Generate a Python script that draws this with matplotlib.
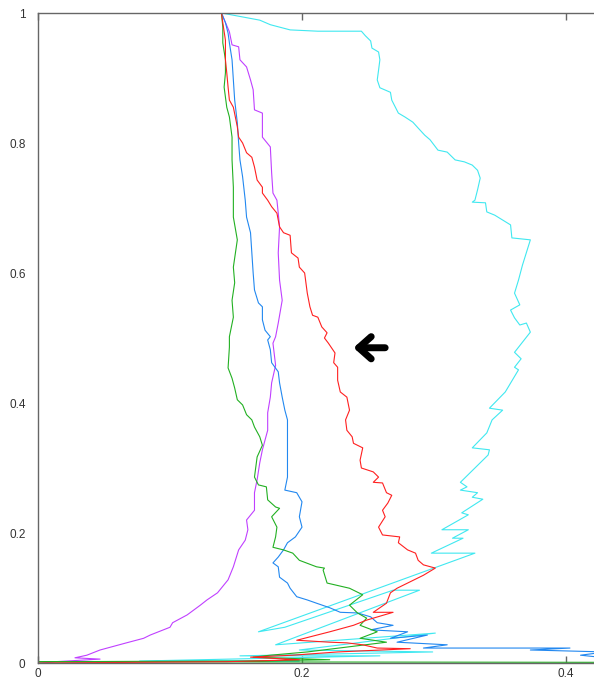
import matplotlib
matplotlib.use("Agg")
import matplotlib.pyplot as plt

# curves, (x, y) in data units
purple_x = [0.139, 0.145, 0.147, 0.152, 0.153, 0.158, 0.161, 0.163, 0.164, 0.170, 0.170, 0.176, 0.177, 0.178,
            0.181, 0.182, 0.183, 0.182, 0.183, 0.185, 0.182, 0.180, 0.178, 0.180, 0.177, 0.176, 0.174, 0.174,
            0.170, 0.168, 0.166, 0.164, 0.164, 0.158, 0.159, 0.157, 0.152, 0.148, 0.144, 0.136, 0.128, 0.123,
            0.113, 0.102, 0.100, 0.085, 0.080, 0.067, 0.047, 0.037, 0.028, 0.047, 0.013, 0.004]
purple_y = [1.0, 0.971, 0.951, 0.948, 0.928, 0.917, 0.897, 0.882, 0.851, 0.846, 0.809, 0.794, 0.754, 0.723,
            0.712, 0.692, 0.671, 0.631, 0.589, 0.558, 0.523, 0.502, 0.492, 0.458, 0.431, 0.409, 0.385, 0.358,
            0.328, 0.308, 0.282, 0.262, 0.235, 0.220, 0.205, 0.189, 0.174, 0.148, 0.128, 0.108, 0.097, 0.089,
            0.074, 0.062, 0.055, 0.043, 0.038, 0.031, 0.020, 0.012, 0.008, 0.006, 0.002, 0.0]

green_x = [0.139, 0.140, 0.140, 0.142, 0.142, 0.141, 0.143, 0.145, 0.147, 0.147, 0.148, 0.148, 0.151, 0.148,
           0.149, 0.147, 0.148, 0.145, 0.145, 0.144, 0.147, 0.149, 0.151, 0.155, 0.158, 0.162, 0.164, 0.168,
           0.170, 0.166, 0.164, 0.167, 0.173, 0.174, 0.180, 0.183, 0.177, 0.181, 0.180, 0.178, 0.186, 0.193,
           0.198, 0.211, 0.217, 0.216, 0.219, 0.236, 0.246, 0.236, 0.242, 0.249, 0.244, 0.257, 0.244, 0.264,
           0.236, 0.204, 0.176, 0.163, 0.221, 0.157, 0.0, 0.45]
green_y = [1.0, 0.978, 0.954, 0.928, 0.908, 0.886, 0.855, 0.840, 0.809, 0.774, 0.732, 0.686, 0.651, 0.609,
           0.585, 0.558, 0.532, 0.502, 0.486, 0.454, 0.438, 0.423, 0.405, 0.397, 0.382, 0.374, 0.363, 0.348,
           0.335, 0.317, 0.286, 0.274, 0.271, 0.251, 0.240, 0.238, 0.225, 0.209, 0.194, 0.178, 0.174, 0.169,
           0.158, 0.148, 0.146, 0.143, 0.123, 0.115, 0.105, 0.089, 0.077, 0.069, 0.058, 0.048, 0.038, 0.032,
           0.025, 0.017, 0.012, 0.009, 0.005, 0.003, 0.002, 0.001]

blue_x = [0.139, 0.142, 0.144, 0.145, 0.147, 0.148, 0.149, 0.151, 0.152, 0.153, 0.155, 0.157, 0.158, 0.161,
          0.162, 0.163, 0.164, 0.167, 0.170, 0.170, 0.172, 0.176, 0.174, 0.176, 0.177, 0.182, 0.183, 0.185,
          0.187, 0.189, 0.189, 0.189, 0.189, 0.189, 0.187, 0.196, 0.200, 0.198, 0.200, 0.195, 0.189, 0.186,
          0.182, 0.178, 0.182, 0.183, 0.189, 0.191, 0.196, 0.204, 0.211, 0.221, 0.229, 0.242, 0.252, 0.257,
          0.269, 0.252, 0.280, 0.267, 0.295, 0.272, 0.310, 0.292, 0.403, 0.373, 0.430, 0.411, 0.430]
blue_y = [1.0, 0.985, 0.969, 0.954, 0.928, 0.897, 0.866, 0.831, 0.800, 0.774, 0.748, 0.712, 0.686, 0.662,
          0.631, 0.600, 0.574, 0.554, 0.548, 0.528, 0.512, 0.502, 0.497, 0.482, 0.462, 0.448, 0.431, 0.409,
          0.389, 0.374, 0.354, 0.332, 0.312, 0.286, 0.266, 0.262, 0.248, 0.225, 0.209, 0.194, 0.185, 0.174,
          0.163, 0.154, 0.148, 0.132, 0.123, 0.115, 0.102, 0.097, 0.092, 0.085, 0.078, 0.077, 0.071, 0.062,
          0.058, 0.051, 0.048, 0.038, 0.043, 0.032, 0.028, 0.023, 0.023, 0.020, 0.017, 0.012, 0.008]

red_x = [0.139, 0.140, 0.142, 0.142, 0.143, 0.144, 0.145, 0.148, 0.151, 0.152, 0.155, 0.158, 0.162, 0.164,
         0.166, 0.170, 0.170, 0.174, 0.177, 0.181, 0.183, 0.186, 0.191, 0.192, 0.197, 0.198, 0.202, 0.204,
         0.206, 0.208, 0.212, 0.215, 0.219, 0.217, 0.220, 0.225, 0.224, 0.227, 0.227, 0.229, 0.234, 0.236,
         0.233, 0.234, 0.238, 0.239, 0.246, 0.244, 0.245, 0.254, 0.258, 0.254, 0.261, 0.264, 0.268, 0.265,
         0.261, 0.263, 0.258, 0.261, 0.274, 0.273, 0.280, 0.286, 0.288, 0.292, 0.301, 0.292, 0.280, 0.272,
         0.267, 0.264, 0.254, 0.269, 0.249, 0.239, 0.221, 0.196, 0.221, 0.234, 0.246, 0.257, 0.282, 0.227,
         0.193, 0.161, 0.198, 0.143, 0.0]
red_y = [1.0, 0.985, 0.958, 0.928, 0.908, 0.886, 0.866, 0.855, 0.825, 0.809, 0.800, 0.785, 0.778, 0.763,
         0.743, 0.732, 0.723, 0.712, 0.702, 0.692, 0.671, 0.662, 0.658, 0.631, 0.623, 0.609, 0.600, 0.569,
         0.548, 0.535, 0.532, 0.517, 0.508, 0.500, 0.492, 0.477, 0.462, 0.455, 0.435, 0.417, 0.409, 0.389,
         0.374, 0.358, 0.348, 0.338, 0.331, 0.312, 0.300, 0.294, 0.286, 0.278, 0.277, 0.262, 0.258, 0.246,
         0.235, 0.225, 0.209, 0.197, 0.194, 0.185, 0.174, 0.169, 0.158, 0.151, 0.146, 0.135, 0.123, 0.115,
         0.108, 0.092, 0.078, 0.078, 0.066, 0.058, 0.048, 0.035, 0.032, 0.031, 0.028, 0.023, 0.022, 0.017,
         0.012, 0.009, 0.005, 0.002, 0.0]

cyan_x = [0.139, 0.168, 0.176, 0.191, 0.212, 0.245, 0.248, 0.252, 0.253, 0.258, 0.259, 0.258, 0.257, 0.259,
          0.267, 0.268, 0.273, 0.278, 0.284, 0.288, 0.293, 0.297, 0.303, 0.310, 0.316, 0.323, 0.329, 0.333,
          0.335, 0.333, 0.331, 0.329, 0.339, 0.340, 0.346, 0.358, 0.359, 0.373, 0.367, 0.364, 0.361, 0.365,
          0.358, 0.361, 0.365, 0.370, 0.373, 0.361, 0.366, 0.361, 0.364, 0.354, 0.342, 0.352, 0.344, 0.340,
          0.329, 0.342, 0.341, 0.320, 0.325, 0.320, 0.333, 0.329, 0.337, 0.321, 0.326, 0.306, 0.326, 0.314,
          0.322, 0.298, 0.331, 0.167, 0.187, 0.269, 0.289, 0.180, 0.301, 0.198, 0.299, 0.153, 0.259, 0.077,
          0.198, 0.013, 0.0]
cyan_y = [1.0, 0.989, 0.982, 0.974, 0.972, 0.972, 0.965, 0.957, 0.946, 0.940, 0.928, 0.912, 0.897, 0.885,
          0.878, 0.866, 0.846, 0.840, 0.832, 0.823, 0.812, 0.805, 0.789, 0.786, 0.774, 0.771, 0.766, 0.758,
          0.746, 0.728, 0.712, 0.709, 0.708, 0.694, 0.689, 0.674, 0.654, 0.651, 0.612, 0.589, 0.569, 0.551,
          0.543, 0.531, 0.520, 0.523, 0.509, 0.478, 0.468, 0.455, 0.451, 0.417, 0.392, 0.389, 0.374, 0.354,
          0.331, 0.328, 0.320, 0.278, 0.271, 0.266, 0.262, 0.255, 0.252, 0.231, 0.228, 0.205, 0.205, 0.192,
          0.192, 0.169, 0.169, 0.048, 0.055, 0.112, 0.112, 0.028, 0.046, 0.020, 0.017, 0.011, 0.011, 0.003,
          0.003, 0.002, 0.0]

x_ticks = [0, 0.2, 0.4]
x_labels = ["0", "0.2", "0.4"]
y_ticks = [0, 0.2, 0.4, 0.6, 0.8, 1]
y_labels = ["0", "0.2", "0.4", "0.6", "0.8", "1"]

plt.rcParams['font.family'] = ['Liberation Sans', 'DejaVu Sans']

W, H = 594, 681
fig = plt.figure(figsize=(W / 100, H / 100), dpi=100)
x_max = 0.43
# axes run past the right edge of the figure, like the reference crop
ax = fig.add_axes([38 / W, 18 / H, x_max * 1320 / W, 650 / H])

ax.plot(cyan_x, cyan_y, color='#40e8f0', lw=0.8)
ax.plot(purple_x, purple_y, color='#c040ff', lw=0.8)
ax.plot(blue_x, blue_y, color='#2288f0', lw=0.8)
ax.plot(green_x, green_y, color='#22b022', lw=0.8)
ax.plot(red_x, red_y, color='#ff2020', lw=0.8)

ax.annotate('', xy=(0.239, 0.485), xytext=(0.263, 0.485),
            arrowprops=dict(arrowstyle='->,head_length=0.45,head_width=0.4', lw=5,
                            color='black', mutation_scale=20, capstyle='round',
                            joinstyle='round', shrinkA=0, shrinkB=0))

ax.set_xlim(0, x_max)
ax.set_ylim(0, 1)
ax.set_xticks(x_ticks)
ax.set_xticklabels(x_labels)
ax.set_yticks(y_ticks)
ax.set_yticklabels(y_labels)
ax.tick_params(axis='x', direction='in', length=5, width=1, color='#666666',
               top=True, labelsize=8.5, labelcolor='#333333', pad=3.5)
ax.tick_params(axis='y', length=0, labelsize=8.5, labelcolor='#333333', pad=9)
for s in ax.spines.values():
    s.set_color('#666666')
    s.set_linewidth(1)

fig.savefig('out.png', dpi=100)
